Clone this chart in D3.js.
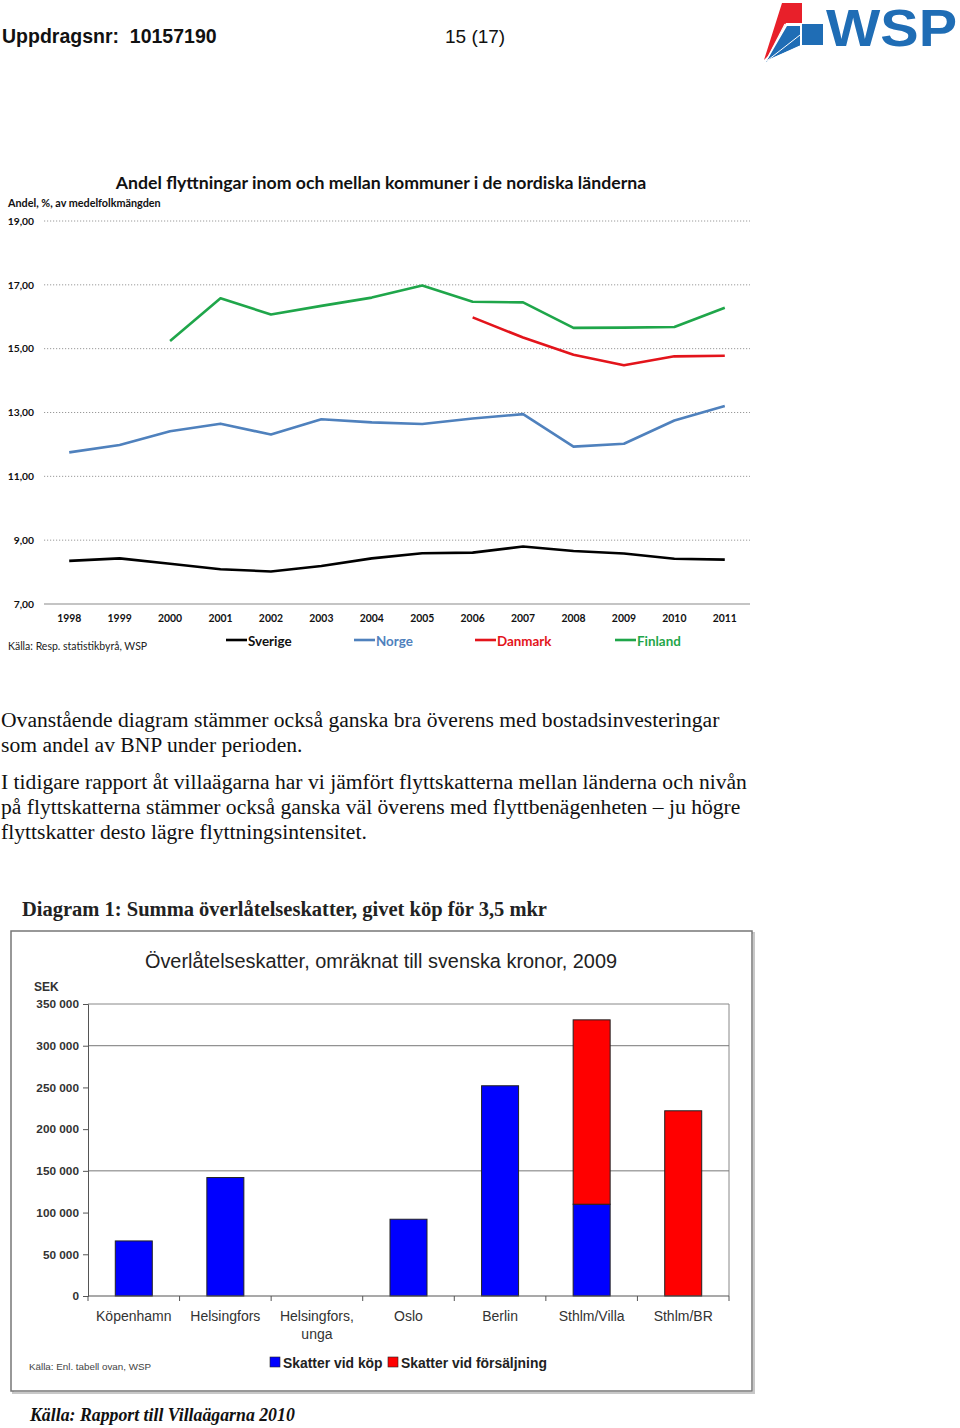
<!DOCTYPE html>
<html><head><meta charset="utf-8">
<script src="https://cdn.jsdelivr.net/npm/d3@7"></script>
<style>body{margin:0;background:#fff}svg{display:block}</style>
</head><body>
<script>
// ---------- DATA ----------
const years = ["1998","1999","2000","2001","2002","2003","2004","2005","2006","2007","2008","2009","2010","2011"];
const sverige = [8.35,8.43,8.26,8.09,8.02,8.19,8.43,8.59,8.61,8.80,8.66,8.58,8.42,8.39];
const norge   = [11.75,11.98,12.41,12.65,12.31,12.79,12.69,12.64,12.81,12.95,11.93,12.02,12.75,13.20];
const danmark = [null,null,null,null,null,null,null,null,15.98,15.35,14.81,14.48,14.76,14.78];
const finland = [null,null,15.24,16.58,16.07,16.34,16.60,16.98,16.47,16.45,15.65,15.66,15.68,16.28];
const seriesNames = ["Sverige","Norge","Danmark","Finland"];
const lineTicks = [7,9,11,13,15,17,19];

const cities = ["Köpenhamn","Helsingfors","Helsingfors,|unga","Oslo","Berlin","Sthlm/Villa","Sthlm/BR"];
const skattKop = [66000,142000,0,92000,252000,110000,0];
const skattForsaljning = [0,0,0,0,0,221000,222000];
const barTicks = [0,50000,100000,150000,200000,250000,300000,350000];
const barGrid = [150000,300000];
const barSeriesNames = ["Skatter vid köp","Skatter vid försäljning"];

const paragraph1 = ["Ovanstående diagram stämmer också ganska bra överens med bostadsinvesteringar","som andel av BNP under perioden."];
const paragraph2 = ["I tidigare rapport åt villaägarna har vi jämfört flyttskatterna mellan länderna och nivån","på flyttskatterna stämmer också ganska väl överens med flyttbenägenheten – ju högre","flyttskatter desto lägre flyttningsintensitet."];

// ---------- SETUP ----------
const svg = d3.select("body").append("svg").attr("width",960).attr("height",1428);
svg.append("rect").attr("width",960).attr("height",1428).attr("fill","#fff");
const calibri = "Lato, 'Open Sans', sans-serif";
const arial = "'Liberation Sans', Arial, sans-serif";
const times = "'Liberation Serif', 'Times New Roman', serif";

// ---------- HEADER ----------
svg.append("text").attr("x",2).attr("y",43).attr("font-family",arial).attr("font-weight","bold")
  .attr("font-size",19.5).attr("fill","#111").attr("xml:space","preserve").text("Uppdragsnr:  10157190");
svg.append("text").attr("x",445).attr("y",43).attr("font-family",arial)
  .attr("font-size",19).attr("fill","#111").text("15 (17)");
// WSP logo
const logo = svg.append("g");
logo.append("polygon").attr("points","782,3 802,3 802,23 786,23 768,56 764,60").attr("fill","#e8202a");
logo.append("polygon").attr("points","802,24 823,24 823,45 802,45").attr("fill","#1f6db5");
logo.append("polygon").attr("points","787,26 800,26 800,46 772,58 766,62").attr("fill","#1f6db5");
logo.append("line").attr("x1",785).attr("y1",24).attr("x2",766).attr("y2",61).attr("stroke","#fff").attr("stroke-width",1.2);
logo.append("line").attr("x1",800).attr("y1",46).attr("x2",767).attr("y2",61).attr("stroke","#fff").attr("stroke-width",1.2);
logo.append("line").attr("x1",800).attr("y1",35).attr("x2",768).attr("y2",60).attr("stroke","#fff").attr("stroke-width",1);
logo.append("text").attr("x",826).attr("y",46).attr("font-family",arial).attr("font-weight","bold")
  .attr("font-size",51).attr("fill","#1f6db5").attr("textLength",131).attr("lengthAdjust","spacingAndGlyphs").text("WSP");

// ---------- LINE CHART ----------
const x = d3.scaleBand().domain(years).range([44,750]);
const y = d3.scaleLinear().domain([7,19]).range([604,221]);
const lc = svg.append("g");
lc.append("text").attr("x",381).attr("y",189).attr("text-anchor","middle").attr("font-family",calibri)
  .attr("font-weight","bold").attr("font-size",17.7).attr("fill","#111")
  .text("Andel flyttningar inom och mellan kommuner i de nordiska länderna");
lc.append("text").attr("x",8).attr("y",207).attr("font-family",calibri).attr("font-weight","bold")
  .attr("font-size",10.8).attr("fill","#111").text("Andel, %, av medelfolkmängden");
// grid
lc.selectAll(".grid").data(lineTicks.filter(d=>d>7)).join("line")
  .attr("x1",44).attr("x2",750).attr("y1",d=>y(d)).attr("y2",d=>y(d))
  .attr("stroke","#9a9a9a").attr("stroke-width",1).attr("stroke-dasharray","1.2,1.8");
lc.append("line").attr("x1",44).attr("x2",750).attr("y1",y(7)).attr("y2",y(7)).attr("stroke","#b0b0b0").attr("stroke-width",1.5);
lc.selectAll(".yl").data(lineTicks).join("text")
  .attr("x",34).attr("y",d=>y(d)+3.7).attr("text-anchor","end").attr("font-family",calibri)
  .attr("font-weight","bold").attr("font-size",10.3).attr("fill","#111")
  .text(d=>d3.format(".2f")(d).replace(".",","));
lc.selectAll(".xl").data(years).join("text")
  .attr("x",d=>x(d)+x.bandwidth()/2).attr("y",621.5).attr("text-anchor","middle").attr("font-family",calibri)
  .attr("font-weight","bold").attr("font-size",10.4).attr("fill","#111").text(d=>d);
const colors = {"Sverige":"#000000","Norge":"#4f81bd","Danmark":"#e3141b","Finland":"#1fa64a"};
const seriesData = {"Sverige":sverige,"Norge":norge,"Danmark":danmark,"Finland":finland};
const line = d3.line().defined(d=>d.v!=null).x(d=>x(d.yr)+x.bandwidth()/2).y(d=>y(d.v));
seriesNames.forEach(n=>{
  lc.append("path").datum(years.map((yr,i)=>({yr,v:seriesData[n][i]})))
    .attr("d",line).attr("fill","none").attr("stroke",colors[n]).attr("stroke-width",2.6)
    .attr("stroke-linejoin","round");
});
// legend
const legX = [226,354,475,615];
seriesNames.forEach((n,i)=>{
  lc.append("line").attr("x1",legX[i]).attr("x2",legX[i]+21).attr("y1",640).attr("y2",640)
    .attr("stroke",colors[n]).attr("stroke-width",2.6);
  lc.append("text").attr("x",legX[i]+22).attr("y",645.5).attr("font-family",calibri).attr("font-weight","bold")
    .attr("font-size",13.4).attr("fill",n==="Sverige"?"#111":colors[n]).text(n);
});
lc.append("text").attr("x",8).attr("y",650).attr("font-family",calibri).attr("font-size",10.5).attr("fill","#222")
  .text("Källa: Resp. statistikbyrå, WSP");

// ---------- PARAGRAPHS ----------
const pg = svg.append("g").attr("font-family",times).attr("font-size",21.6).attr("fill","#111");
paragraph1.forEach((t,i)=>pg.append("text").attr("x",1).attr("y",727+i*25).text(t));
paragraph2.forEach((t,i)=>pg.append("text").attr("x",1).attr("y",789+i*25).text(t));

// ---------- BAR CHART ----------
const bc = svg.append("g");
bc.append("text").attr("x",22).attr("y",916).attr("font-family",times).attr("font-weight","bold")
  .attr("font-size",20.5).attr("fill","#222").text("Diagram 1: Summa överlåtelseskatter, givet köp för 3,5 mkr");
// frame with shadow
bc.append("rect").attr("x",13).attr("y",933).attr("width",741).attr("height",460).attr("fill","none").attr("stroke","#c8c8c8").attr("stroke-width",2);
bc.append("rect").attr("x",11).attr("y",931).attr("width",741).attr("height",460).attr("fill","#fff").attr("stroke","#777").attr("stroke-width",1.5);
bc.append("text").attr("x",381).attr("y",968).attr("text-anchor","middle").attr("font-family",arial)
  .attr("font-size",19.9).attr("fill","#222").text("Överlåtelseskatter, omräknat till svenska kronor, 2009");
bc.append("text").attr("x",34).attr("y",991).attr("font-family",arial).attr("font-weight","bold")
  .attr("font-size",12).attr("fill","#333").text("SEK");
const xb = d3.scaleBand().domain(cities).range([88,729]);
const yb = d3.scaleLinear().domain([0,350000]).range([1296,1004]);
// plot border top/right
bc.append("line").attr("x1",88).attr("x2",729).attr("y1",yb(350000)).attr("y2",yb(350000)).attr("stroke","#888").attr("stroke-width",1);
bc.append("line").attr("x1",729).attr("x2",729).attr("y1",yb(350000)).attr("y2",yb(0)).attr("stroke","#888").attr("stroke-width",1);
bc.selectAll(".bg").data(barGrid).join("line").attr("x1",88).attr("x2",729)
  .attr("y1",d=>yb(d)).attr("y2",d=>yb(d)).attr("stroke","#777").attr("stroke-width",1);
const fmt = d=>d3.format(",")(d).replace(/,/g," ");
const yAxis = d3.axisLeft(yb).tickValues(barTicks).tickFormat(fmt).tickSize(5).tickPadding(4);
const ya = bc.append("g").attr("transform","translate(88,0)").call(yAxis);
ya.select(".domain").attr("stroke","#555");
ya.selectAll(".tick line").attr("stroke","#555");
ya.selectAll("text").attr("font-family",arial).attr("font-weight","bold").attr("font-size",11.8).attr("fill","#333");
// bars
const stackData = cities.map((c,i)=>({c,kop:skattKop[i],fors:skattForsaljning[i]}));
const stack = d3.stack().keys(["kop","fors"])(stackData);
const barColors = ["#0000ff","#ff0000"];
const bw = 37;
stack.forEach((s,si)=>{
  bc.selectAll(".b"+si).data(s.filter(d=>d[1]-d[0]>0)).join("rect")
    .attr("x",d=>xb(d.data.c)+xb.bandwidth()/2-bw/2).attr("width",bw)
    .attr("y",d=>yb(d[1])).attr("height",d=>yb(d[0])-yb(d[1]))
    .attr("fill",barColors[si]).attr("stroke","#222").attr("stroke-width",1);
});
// x axis
bc.append("line").attr("x1",88).attr("x2",729).attr("y1",yb(0)).attr("y2",yb(0)).attr("stroke","#555").attr("stroke-width",1.2);
const edges = cities.map(c=>xb(c)).concat([729]);
bc.selectAll(".xt").data(edges).join("line").attr("x1",d=>d).attr("x2",d=>d)
  .attr("y1",yb(0)).attr("y2",yb(0)+5).attr("stroke","#555");
cities.forEach(c=>{
  const parts = c.split("|");
  parts.forEach((p,j)=>bc.append("text").attr("x",xb(c)+xb.bandwidth()/2).attr("y",1321+j*18)
    .attr("text-anchor","middle").attr("font-family",arial).attr("font-size",14).attr("fill","#333").text(p));
});
// legend
const lgX = [270,388];
barSeriesNames.forEach((n,i)=>{
  bc.append("rect").attr("x",lgX[i]).attr("y",1357).attr("width",10).attr("height",10).attr("fill",barColors[i]).attr("stroke","#222").attr("stroke-width",0.6);
  bc.append("text").attr("x",lgX[i]+13).attr("y",1367.5).attr("font-family",arial).attr("font-weight","bold")
    .attr("font-size",13.9).attr("fill","#222").text(n);
});
bc.append("text").attr("x",29).attr("y",1370).attr("font-family",arial).attr("font-size",9.8).attr("fill","#444")
  .text("Källa: Enl. tabell ovan, WSP");
// footer
svg.append("text").attr("x",30).attr("y",1421).attr("font-family",times).attr("font-weight","bold").attr("font-style","italic")
  .attr("font-size",17.8).attr("fill","#111").text("Källa: Rapport till Villaägarna 2010");
</script>
</body></html>
